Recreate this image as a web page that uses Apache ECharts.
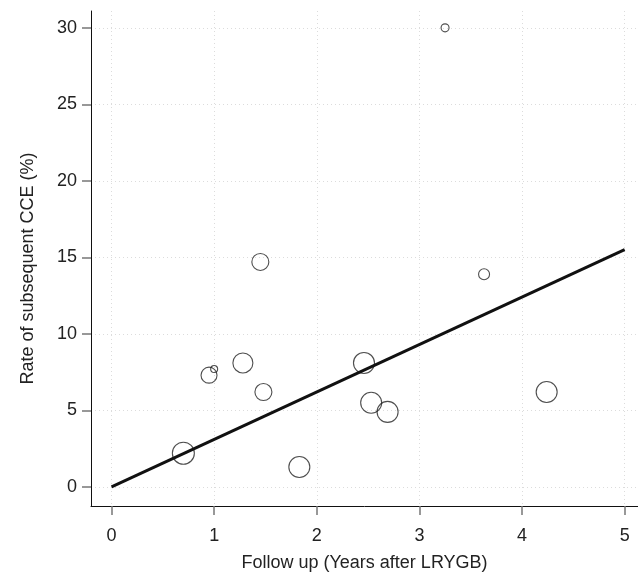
<!DOCTYPE html>
<html>
<head>
<meta charset="utf-8">
<script src="https://cdn.jsdelivr.net/npm/echarts@6/dist/echarts.min.js"></script>
<style>
  html, body { margin: 0; padding: 0; background: #fff; }
  #main { width: 638px; height: 575px; }
</style>
</head>
<body>
<div id="main"></div>
<script>
// follow up (years) and rate of subsequent CCE (%), one entry per study
var followUp = [3.25, 3.63, 4.24, 1.45, 0.95, 1.00, 1.28, 1.48, 2.46, 2.53, 2.69, 1.83, 0.70];
var cceRate  = [30.0, 13.9, 6.2, 14.7, 7.3, 7.7, 8.1, 6.2, 8.1, 5.5, 4.9, 1.3, 2.2];
// circle diameter (study weight)
var weight   = [8, 11, 21, 17, 16, 7, 20, 17, 21, 21, 21, 21, 22];
// fitted line through origin
var fitX = [0, 5];
var fitY = [0, 15.5];
var xTicks = [0, 1, 2, 3, 4, 5];
var yTicks = [0, 5, 10, 15, 20, 25, 30];

var points = [];
for (var i = 0; i < followUp.length; i++) {
    points.push([followUp[i], cceRate[i], weight[i]]);
}
var fitLine = [];
for (var j = 0; j < fitX.length; j++) {
    fitLine.push([fitX[j], fitY[j]]);
}

var font = '"Liberation Sans", Arial, Helvetica, sans-serif';
var gridStyle = { show: true, lineStyle: { color: '#dcdcdc', type: [1, 3], width: 1 } };

var myChart = echarts.init(document.getElementById('main'));
var option = {
    animation: false,
    backgroundColor: '#fff',
    grid: { left: 91, right: 0, top: 11, bottom: 69, containLabel: false, outerBoundsMode: 'none' },
    xAxis: {
        type: 'value',
        min: -0.2,
        max: 5.13,
        name: 'Follow up (Years after LRYGB)',
        nameLocation: 'middle',
        nameGap: 48,
        nameTextStyle: { fontFamily: font, fontSize: 18, color: '#222' },
        axisLine: { show: true, onZero: false, lineStyle: { color: '#111', width: 1 } },
        axisTick: { show: true, length: 9, customValues: xTicks, lineStyle: { color: '#777', width: 1.5 } },
        axisLabel: { customValues: xTicks, margin: 21, fontFamily: font, fontSize: 18, color: '#222' },
        splitLine: gridStyle
    },
    yAxis: {
        type: 'value',
        min: -1.25,
        max: 31.1,
        name: 'Rate of subsequent CCE (%)',
        nameLocation: 'middle',
        nameGap: 54,
        nameTextStyle: { fontFamily: font, fontSize: 18, color: '#222', padding: [0, 20, 0, 0] },
        axisLine: { show: true, onZero: false, lineStyle: { color: '#111', width: 1 } },
        axisTick: { show: true, length: 9, customValues: yTicks, lineStyle: { color: '#777', width: 1.5 } },
        axisLabel: { customValues: yTicks, margin: 14, fontFamily: font, fontSize: 18, color: '#222' },
        splitLine: gridStyle
    },
    series: [
        {
            name: 'studies',
            type: 'scatter',
            data: points,
            symbol: 'circle',
            symbolSize: function (val) { return val[2]; },
            itemStyle: { color: 'rgba(255,255,255,0)', borderColor: '#222', borderWidth: 1.1 }
        },
        {
            name: 'fit',
            type: 'line',
            data: fitLine,
            showSymbol: false,
            symbol: 'none',
            lineStyle: { color: '#111', width: 3 },
            z: 3
        }
    ]
};
myChart.setOption(option);
</script>
</body>
</html>
